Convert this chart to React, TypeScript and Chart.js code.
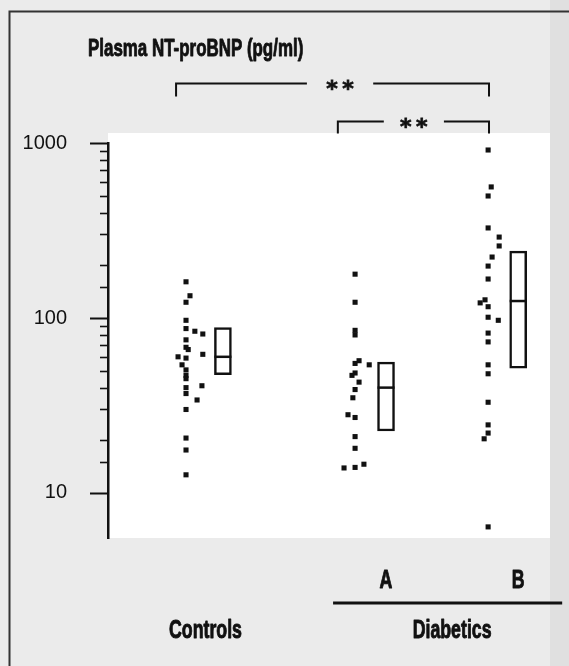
import { useEffect, useRef } from 'react';
import { Chart, registerables } from 'chart.js';

Chart.register(...registerables);

// ---------- text ----------
const chartTitle = 'Plasma NT-proBNP (pg/ml)';
const controlsLabel = 'Controls';
const diabeticGroupLabels = ['A', 'B'];
const diabeticsLabel = 'Diabetics';
const significanceLabel = '**';

// ---------- axis ----------
const yTickLabels = [10, 100, 1000];
const yMin = 5.53;
const yMax = 1000;
const xMin = 0;
const xMax = 10;

// ---------- individual values (pg/ml) ----------
const controlsValues = [161, 134, 123, 97, 87, 84, 81, 75, 68, 66, 62, 60, 59, 54, 50.5, 47, 45, 41, 40, 37, 34, 30, 20.6, 17.6, 12.7];
const controlsJitter = [0, 0.09, 0, 0, 0, 0.2, 0.38, 0, 0, 0.05, 0.38, -0.18, 0, -0.09, 0, 0, 0, 0.36, 0, 0, 0.25, 0, 0, 0, 0];

const groupAValues = [178, 123, 85, 80, 57, 55, 54, 48.5, 47, 43, 39, 35, 28, 27, 21, 18, 14.6, 14, 13.9];
const groupAJitter = [0, 0, 0, 0, 0.09, 0, 0.32, 0, -0.07, 0.09, 0, -0.05, -0.16, 0, 0, 0, 0.2, 0, -0.25];

const groupBValues = [912, 561, 498, 327, 290, 258, 223, 198, 167, 127, 122, 116, 101, 97, 82, 73, 54, 48, 33, 24.5, 22, 20.4, 6.4];
const groupBJitter = [0, 0.07, 0, 0, 0.25, 0.25, 0.09, 0, 0, -0.07, -0.18, 0, 0, 0.23, 0, 0, 0, 0, 0, 0, 0, -0.09, 0];

// ---------- group positions on the (hidden) x scale ----------
const pointColumnX = [1.765, 5.59, 8.6];
const boxColumnX = [2.6, 6.29, 9.28];

// ---------- box summaries (pg/ml) ----------
const boxLow = [47.5, 22.6, 51.6];
const boxMedian = [60, 40, 125];
const boxHigh = [88, 56, 241];

// ---------- significance brackets (x in scale units) ----------
const bracketFrom = [1.54, 5.2];
const bracketTo = [8.62, 8.62];
const bracketGapFrom = [4.5, 6.24];
const bracketGapTo = [6.0, 7.6];

const SANS = '"Liberation Sans", Arial, Helvetica, sans-serif';
const INK = '#111111';

function isDecade(v: number) {
  const l = Math.log10(v);
  return Math.abs(l - Math.round(l)) < 1e-6;
}

function condensedText(ctx: CanvasRenderingContext2D, text: string, x: number, y: number, align: CanvasTextAlign, squeeze: number) {
  ctx.save();
  ctx.translate(x, y);
  ctx.scale(squeeze, 1);
  ctx.textAlign = align;
  ctx.textBaseline = 'alphabetic';
  ctx.strokeStyle = INK;
  ctx.lineWidth = 0.9;
  ctx.lineJoin = 'round';
  ctx.fillText(text, 0, 0);
  ctx.strokeText(text, 0, 0);
  ctx.restore();
}

const decorPlugin = {
  id: 'decor',
  beforeDraw(chart: any) {
    const { ctx, chartArea: a, width, height } = chart;
    ctx.save();
    ctx.fillStyle = '#ebebeb';
    ctx.fillRect(0, 0, width, height);
    ctx.fillStyle = '#e0e0e0';
    ctx.fillRect(a.right, 0, width - a.right, height);
    ctx.fillStyle = '#ffffff';
    ctx.fillRect(a.left, a.top - 10, a.right - a.left, a.bottom - a.top + 10);
    // frame
    ctx.strokeStyle = '#333';
    ctx.lineWidth = 2;
    ctx.beginPath();
    ctx.moveTo(9.5, height);
    ctx.lineTo(9.5, 11.5);
    ctx.lineTo(width, 11.5);
    ctx.stroke();
    ctx.restore();
  },
  afterDraw(chart: any) {
    const { ctx, chartArea: a } = chart;
    const xs = chart.scales.x;
    const ys = chart.scales.y;
    ctx.save();
    // y ticks
    ctx.strokeStyle = INK;
    ys.ticks.forEach((t: any) => {
      if (t.value < 10 - 1e-6 || t.value > yMax + 1e-6) return;
      const py = Math.round(ys.getPixelForValue(t.value)) + 0.5;
      const major = isDecade(t.value);
      ctx.lineWidth = major ? 2 : 1.6;
      ctx.beginPath();
      ctx.moveTo(a.left - (major ? 18 : 8), py);
      ctx.lineTo(a.left, py);
      ctx.stroke();
    });

    // title
    ctx.fillStyle = INK;
    ctx.font = 'bold 24px ' + SANS;
    condensedText(ctx, chartTitle, 88, 56, 'left', 0.705);

    // significance brackets
    const levels = [83, 121];
    const drops = [13, 12];
    bracketFrom.forEach((f, i) => {
      const x0 = xs.getPixelForValue(f);
      const x1 = xs.getPixelForValue(bracketTo[i]);
      const g0 = xs.getPixelForValue(bracketGapFrom[i]);
      const g1 = xs.getPixelForValue(bracketGapTo[i]);
      const y0 = levels[i] + 0.5;
      ctx.lineWidth = 2;
      ctx.strokeStyle = INK;
      ctx.beginPath();
      ctx.moveTo(x0, y0 + drops[i]);
      ctx.lineTo(x0, y0);
      ctx.lineTo(g0, y0);
      ctx.moveTo(g1, y0);
      ctx.lineTo(x1, y0);
      ctx.lineTo(x1, y0 + drops[i]);
      ctx.stroke();
      const mid = (g0 + g1) / 2;
      ctx.font = 'bold 22px "DejaVu Sans", sans-serif';
      ctx.textAlign = 'center';
      ctx.textBaseline = 'alphabetic';
      ctx.lineWidth = 0.8;
      const stars = significanceLabel.split('');
      stars.forEach((s, k) => {
        const sx = mid + (k - (stars.length - 1) / 2) * 16;
        ctx.fillText(s, sx, y0 + 12.5);
        ctx.strokeText(s, sx, y0 + 12.5);
      });
    });

    // category labels
    ctx.font = 'bold 25px ' + SANS;
    const sq = 0.71;
    condensedText(ctx, controlsLabel, (xs.getPixelForValue(pointColumnX[0]) + xs.getPixelForValue(boxColumnX[0])) / 2 + 1, a.bottom + 100, 'center', sq);
    diabeticGroupLabels.forEach((lab, i) => {
      condensedText(ctx, lab, xs.getPixelForValue(boxColumnX[i + 1]), a.bottom + 50, 'center', sq);
    });
    const dMid = (xs.getPixelForValue(boxColumnX[1]) + xs.getPixelForValue(boxColumnX[2])) / 2;
    condensedText(ctx, diabeticsLabel, dMid, a.bottom + 100, 'center', sq);
    ctx.lineWidth = 3;
    ctx.strokeStyle = INK;
    ctx.beginPath();
    ctx.moveTo(xs.getPixelForValue(pointColumnX[1]) - 22, a.bottom + 65);
    ctx.lineTo(xs.getPixelForValue(boxColumnX[2]) + 44, a.bottom + 65);
    ctx.stroke();
    ctx.restore();
  },
};

function pts(values: number[], jitter: number[], col: number) {
  return values.map((v, i) => ({ x: col + jitter[i], y: v }));
}

export default function App() {
  const ref = useRef<HTMLCanvasElement>(null);
  useEffect(() => {
    document.body.style.margin = '0';
    const canvas = ref.current!;
    const pointStyle = {
      type: 'scatter' as const,
      pointStyle: 'rect' as const,
      pointRadius: 3.6,
      pointBackgroundColor: INK,
      pointBorderWidth: 0,
      showLine: false,
      order: 0,
    };
    const chart = new Chart(canvas, {
      type: 'scatter',
      data: {
        datasets: [
          { ...pointStyle, label: controlsLabel, data: pts(controlsValues, controlsJitter, pointColumnX[0]) },
          { ...pointStyle, label: diabeticGroupLabels[0], data: pts(groupAValues, groupAJitter, pointColumnX[1]) },
          { ...pointStyle, label: diabeticGroupLabels[1], data: pts(groupBValues, groupBJitter, pointColumnX[2]) },
          {
            type: 'scatter',
            label: 'median',
            data: boxColumnX.map((x, i) => ({ x, y: boxMedian[i] })),
            pointStyle: 'line',
            pointRadius: 8.5,
            pointBorderWidth: 2.5,
            pointBorderColor: INK,
            showLine: false,
            order: 1,
          } as any,
          {
            type: 'bar',
            label: 'box',
            data: boxColumnX.map((x, i) => ({ x, y: [boxLow[i], boxHigh[i]] })),
            barThickness: 17,
            backgroundColor: '#ffffff',
            borderColor: INK,
            borderWidth: 2.5,
            borderSkipped: false,
            order: 2,
          } as any,
        ],
      },
      options: {
        responsive: false,
        animation: false,
        events: [],
        layout: { padding: { left: 0, top: 143, right: 19, bottom: 128 } },
        plugins: { legend: { display: false }, tooltip: { enabled: false }, title: { display: false } },
        scales: {
          x: { type: 'linear', min: xMin, max: xMax, display: false, offset: false, grid: { offset: false } },
          y: {
            type: 'logarithmic',
            position: 'left',
            min: yMin,
            max: yMax,
            beginAtZero: false,
            afterFit: (s: any) => { s.width = 108; },
            grid: { display: false, drawTicks: false },
            border: { display: true, color: INK, width: 2.5 },
            ticks: {
              autoSkip: false,
              padding: 41,
              color: INK,
              font: { family: SANS, size: 20 },
              callback: (v: any) => {
                const n = Number(v);
                return yTickLabels.some((t) => Math.abs(t - n) < 1e-6) ? String(Math.round(n)) : '';
              },
            },
          },
        },
      },
      plugins: [decorPlugin],
    } as any);
    return () => chart.destroy();
  }, []);
  return (
    <div style={{ width: 569, height: 666 }}>
      <canvas ref={ref} width={569} height={666} style={{ display: 'block', width: 569, height: 666 }} />
    </div>
  );
}
